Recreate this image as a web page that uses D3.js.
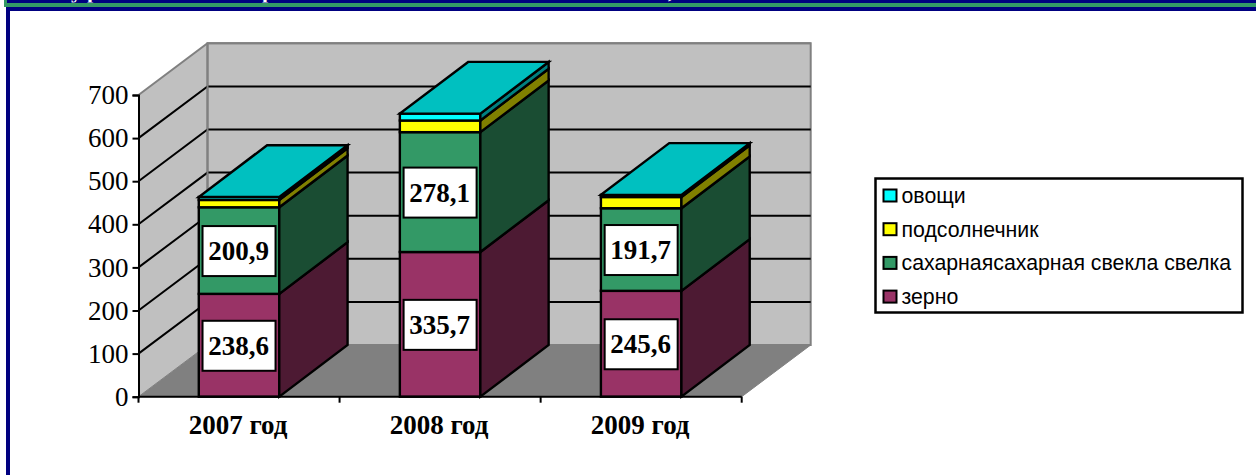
<!DOCTYPE html>
<html>
<head>
<meta charset="utf-8">
<script src="https://cdn.jsdelivr.net/npm/d3@7"></script>
<style>
  html, body { margin: 0; padding: 0; background: #fff; overflow: hidden; }
</style>
</head>
<body>
<div id="chart"></div>
<script>
// ========= DATA =========
const years = ["2007 год", "2008 год", "2009 год"];
const seriesNames = ["зерно", "сахарнаясахарная свекла свелка", "подсолнечник", "овощи"];
const zerno = [238.6, 335.7, 245.6];
const svekla = [200.9, 278.1, 191.7];
const podsolnechnik = [17, 27, 26];
const ovoshchi = [7, 16, 5];
const yTicks = [0, 100, 200, 300, 400, 500, 600, 700];
// only the descenders of the cropped title show in the top strip
const titleBits = ["у", "р", "р", ","];
const titleBitsX = [71, 87, 262, 668];

// front, side (Excel shades the 3D sides darker)
const seriesFront = ["#993366", "#339966", "#ffff00", "#00ffff"];
const seriesSide = ["#4d1a33", "#1a4d33", "#808000", "#008080"];
const topColor = "#00c0c0";

// ========= LAYOUT =========
const width = 1256, height = 475;
const depthX = 69, depthY = -51.7;
const barDepthX = 68.3;
const barW = 80.5;
const barStroke = 2.4;

const svg = d3.select("#chart").append("svg")
  .attr("width", width)
  .attr("height", height)
  .style("display", "block");

const x = d3.scaleBand().domain(years).range([138.5, 741.7]);
const y = d3.scaleLinear().domain([0, 700]).range([396.7, 95]);

const poly = pts => pts.map(p => p.join(",")).join(" ");
const serif = "'Liberation Serif', 'Times New Roman', serif";

// ========= PAGE FRAME =========
svg.append("rect").attr("x", 4).attr("y", 0).attr("width", width).attr("height", 7).attr("fill", "#339966");
svg.append("rect").attr("x", 7).attr("y", 0).attr("width", width).attr("height", 3).attr("fill", "#000080");
svg.append("rect").attr("x", 8).attr("y", 9).attr("width", width).attr("height", height).attr("fill", "#fff").attr("stroke", "#000080").attr("stroke-width", 4);

svg.append("clipPath").attr("id", "strip").append("rect").attr("x", 0).attr("y", 0).attr("width", width).attr("height", 2.5);
titleBits.forEach((t, i) => {
  svg.append("text")
    .attr("clip-path", "url(#strip)")
    .attr("x", titleBitsX[i]).attr("y", -2)
    .attr("font-family", serif).attr("font-weight", "bold").attr("font-size", 22).attr("fill", "#fff")
    .text(t);
});

// ========= WALLS =========
const [x0, x1] = x.range();
const yBase = y(0), yTop = y(700);

svg.append("polygon")
  .attr("points", poly([[x0, yBase], [x0, yTop], [x0 + depthX, yTop + depthY], [x0 + depthX, yBase + depthY]]))
  .attr("fill", "#c0c0c0");
svg.append("polygon")
  .attr("points", poly([[x0 + depthX, yBase + depthY], [x0 + depthX, yTop + depthY], [x1 + depthX, yTop + depthY], [x1 + depthX, yBase + depthY]]))
  .attr("fill", "#c0c0c0").attr("stroke", "#808080").attr("stroke-width", 2);
svg.append("polygon")
  .attr("points", poly([[x0, yBase], [x0 + depthX, yBase + depthY], [x1 + depthX, yBase + depthY], [x1, yBase]]))
  .attr("fill", "#808080").attr("stroke", "#808080").attr("stroke-width", 1);

// gridlines
yTicks.slice(1, -1).forEach(v => {
  svg.append("polyline")
    .attr("points", poly([[x0, y(v)], [x0 + depthX, y(v) + depthY], [x1 + depthX, y(v) + depthY]]))
    .attr("fill", "none").attr("stroke", "#000").attr("stroke-width", 2);
});
svg.append("polyline")
  .attr("points", poly([[x0, y(700)], [x0 + depthX, y(700) + depthY], [x1 + depthX, y(700) + depthY]]))
  .attr("fill", "none").attr("stroke", "#808080").attr("stroke-width", 2);
svg.append("line")
  .attr("x1", x0 + depthX).attr("x2", x0 + depthX)
  .attr("y1", yTop + depthY).attr("y2", yBase + depthY)
  .attr("stroke", "#808080").attr("stroke-width", 2);

// ========= BARS =========
const stacked = d3.stack().keys([0, 1, 2, 3]).value((d, k) => d[k])(
  years.map((_, i) => [zerno[i], svekla[i], podsolnechnik[i], ovoshchi[i]])
);

years.forEach((yr, i) => {
  const bx = x(yr) + (x.bandwidth() - barW) / 2;
  const br = bx + barW;
  stacked.forEach((layer, s) => {
    const yb = y(layer[i][0]), yt = y(layer[i][1]);
    svg.append("rect")
      .attr("x", bx).attr("y", yt).attr("width", barW).attr("height", yb - yt)
      .attr("fill", seriesFront[s]).attr("stroke", "#000").attr("stroke-width", barStroke);
    svg.append("polygon")
      .attr("points", poly([[br, yb], [br, yt], [br + barDepthX, yt + depthY], [br + barDepthX, yb + depthY]]))
      .attr("fill", seriesSide[s]).attr("stroke", "#000").attr("stroke-width", barStroke);
  });
  const yt = y(stacked[3][i][1]);
  svg.append("polygon")
    .attr("points", poly([[bx, yt], [br, yt], [br + barDepthX, yt + depthY], [bx + barDepthX, yt + depthY]]))
    .attr("fill", topColor).attr("stroke", "#000").attr("stroke-width", barStroke);
});

// ========= VALUE LABELS =========
const fmt = v => String(v).replace(".", ",");
[zerno, svekla].forEach((vals, s) => {
  years.forEach((yr, i) => {
    const cx = x(yr) + x.bandwidth() / 2;
    const cy = y((stacked[s][i][0] + stacked[s][i][1]) / 2);
    svg.append("rect")
      .attr("x", cx - 36.5).attr("y", cy - 24.5).attr("width", 73).attr("height", 50)
      .attr("fill", "#fff").attr("stroke", "#000").attr("stroke-width", 2);
    svg.append("text")
      .attr("x", cx - 0.5).attr("y", cy + 9.5)
      .attr("text-anchor", "middle")
      .attr("font-family", serif).attr("font-weight", "bold").attr("font-size", 27)
      .text(fmt(vals[i]));
  });
});

// ========= AXES =========
const yAxisG = svg.append("g")
  .attr("transform", `translate(${x0},0)`)
  .call(d3.axisLeft(y).tickValues(yTicks).tickSize(6).tickPadding(4).tickFormat(d3.format("d")));
yAxisG.selectAll("path, line").attr("stroke", "#000").attr("stroke-width", 2);
yAxisG.selectAll("text").attr("font-family", serif).attr("font-size", 27).attr("fill", "#000");

const xTicks = [0, 1, 2, 3];
svg.append("line").attr("x1", x0).attr("x2", x1).attr("y1", yBase).attr("y2", yBase).attr("stroke", "#000").attr("stroke-width", 2);
xTicks.forEach(k => {
  const tx = x0 + k * x.step();
  svg.append("line").attr("x1", tx).attr("x2", tx).attr("y1", yBase).attr("y2", yBase + 6).attr("stroke", "#000").attr("stroke-width", 2);
});
years.forEach(yr => {
  svg.append("text")
    .attr("x", x(yr) + x.bandwidth() / 2 - 1)
    .attr("y", 434)
    .attr("text-anchor", "middle")
    .attr("font-family", serif).attr("font-weight", "bold").attr("font-size", 27)
    .text(yr);
});

// ========= LEGEND =========
svg.append("rect").attr("x", 875.5).attr("y", 178.5).attr("width", 367).attr("height", 134)
  .attr("fill", "#fff").attr("stroke", "#000").attr("stroke-width", 2.5);

[3, 2, 1, 0].forEach((s, row) => {
  const ry = 195.5 + row * 33.7;
  svg.append("rect").attr("x", 883.5).attr("y", ry - 6).attr("width", 13).attr("height", 12)
    .attr("fill", seriesFront[s]).attr("stroke", "#000").attr("stroke-width", 2);
  svg.append("text").attr("x", 901.5).attr("y", ry + 7.5)
    .attr("font-family", "'Liberation Sans', Arial, sans-serif").attr("font-size", 21.3).attr("fill", "#000")
    .text(seriesNames[s]);
});
</script>
</body>
</html>
